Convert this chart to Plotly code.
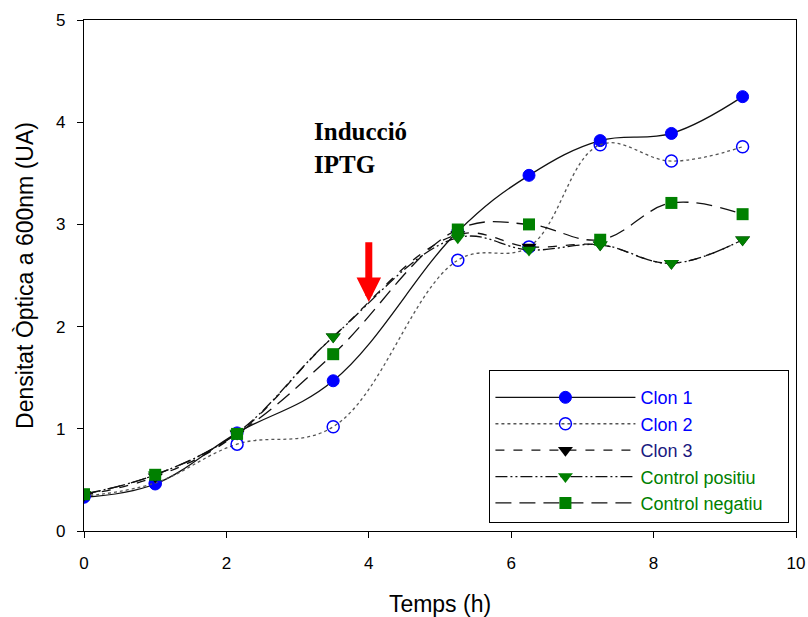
import plotly.graph_objects as go

temps = [0, 1, 2.15, 3.5, 5.25, 6.25, 7.25, 8.25, 9.25]
clon1 = [0.33, 0.46, 0.96, 1.47, 2.93, 3.48, 3.82, 3.89, 4.25]
clon2 = [0.34, 0.47, 0.85, 1.02, 2.65, 2.78, 3.78, 3.62, 3.76]
clon3 = [0.35, 0.53, 0.95, 1.90, 2.90, 2.78, 2.80, 2.62, 2.85]
ctrl_pos = [0.36, 0.55, 0.96, 1.90, 2.87, 2.75, 2.80, 2.62, 2.85]
ctrl_neg = [0.36, 0.55, 0.95, 1.73, 2.95, 3.00, 2.85, 3.21, 3.10]

BLUE = "#0000ff"
GREEN = "#008000"
NAVY = "#1a1a80"

series = [
    ("Clon 1", clon1, BLUE, "#111", "solid", dict(symbol="circle", size=12, color=BLUE, line=dict(color=BLUE, width=1))),
    ("Clon 2", clon2, BLUE, "#555", "dot", dict(symbol="circle-open", size=12, color=BLUE, line=dict(width=1.5))),
    ("Clon 3", clon3, NAVY, "#111", "dash", dict(symbol="triangle-down", size=13, color="#000")),
    ("Control positiu", ctrl_pos, GREEN, "#111", "12px,3px,2px,3px,2px,3px", dict(symbol="triangle-down", size=13, color=GREEN)),
    ("Control negatiu", ctrl_neg, GREEN, "#111", "16px,8px", dict(symbol="square", size=12, color=GREEN)),
]

fig = go.Figure()
for i, (name, ys, tcol, lcol, dash, mk) in enumerate(series):
    pad = "\u00a0" * 4 if i == 4 else ""
    fig.add_trace(go.Scatter(
        x=temps, y=ys, mode="lines+markers",
        name=f"<span style='color:{tcol}'>{name}</span>{pad}",
        legendgroup=f"g{i}",
        line=dict(color=lcol, width=1.3, dash=dash, shape="spline", smoothing=1.1),
        marker=mk,
    ))

fig.add_annotation(x=4.0, y=2.24, ax=4.0, ay=2.84, xref="x", yref="y", axref="x", ayref="y",
                   text="", showarrow=True, arrowhead=2, arrowsize=0.7, arrowwidth=7, arrowcolor="#ff0000")
fig.add_annotation(x=3.2, y=3.75, xref="x", yref="y", xanchor="left", yanchor="middle", align="left",
                   text="<b>Inducció<br>IPTG</b>", showarrow=False,
                   font=dict(family="Liberation Serif", size=25, color="#000"))

axis_common = dict(showline=True, linecolor="#000", linewidth=1.3, mirror=True, ticks="outside",
                   ticklen=6, tickcolor="#000", showgrid=False, zeroline=False, automargin=False,
                   tickfont=dict(family="Liberation Sans", size=17, color="#000"))
fig.update_xaxes(range=[0, 10], dtick=2, ticklabelstandoff=10,
                 title=dict(text="Temps (h)", font=dict(family="Liberation Sans", size=23, color="#000"), standoff=32), **axis_common)
fig.update_yaxes(range=[0, 5], dtick=1, ticklabelstandoff=8,
                 title=dict(text="Densitat Òptica a 600nm (UA)", font=dict(family="Liberation Sans", size=23, color="#000"), standoff=15), **axis_common)

fig.update_layout(
    width=808, height=617,
    margin=dict(l=84, r=12, t=20, b=86),
    plot_bgcolor="#fff", paper_bgcolor="#fff",
    legend=dict(x=0.569, y=0.315, xanchor="left", yanchor="top", bordercolor="#000", borderwidth=1.3,
                bgcolor="#fff", font=dict(family="Liberation Sans", size=18), tracegroupgap=0,
                itemwidth=140, title=dict(text=" ", font=dict(size=6))),
)

fig.write_html("out.html")
